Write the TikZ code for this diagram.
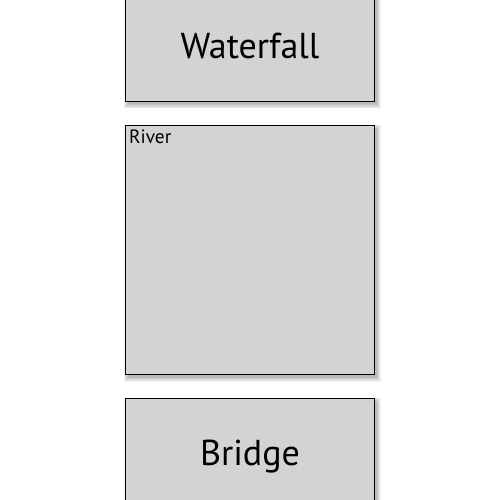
\documentclass[tikz,border=0pt]{standalone}
\usepackage{fontspec}
\setmainfont{PT Sans}
\usetikzlibrary{calc,backgrounds}
\begin{document}
\begin{tikzpicture}[x=1pt,y=-1pt,
  box/.style={draw=black, line width=1pt, outer sep=0pt, inner sep=0pt, minimum width=249pt,
    fill={rgb,255:red,211;green,211;blue,211}},
  big/.style={font=\fontsize{36}{40}\selectfont},
  small/.style={font=\fontsize{19.3}{21}\selectfont, anchor=base west, inner sep=0pt},
  shadowlayer/.style={fill=black, opacity=0.05}]
\useasboundingbox (0,0) rectangle (500,500);
\clip (0,0) rectangle (500,500);
\node[box, minimum height=160pt, anchor=south west] (waterfall) at (125.5,101.5) {};
\node[big, anchor=base] (wlabel) at (250,59) {Waterfall};
\node[box, minimum height=249pt, anchor=north west] (river) at (125.5,125.5) {};
\node[small] (rlabel) at (129,143.5) {River};
\node[box, minimum height=160pt, anchor=north west] (bridge) at (125.5,398.5) {};
\node[big, anchor=base] (blabel) at (250,465.5) {Bridge};
\begin{scope}[on background layer]
  \foreach \n in {waterfall,river,bridge}{
    \foreach \d in {0,0.8,1.6,2.4,3.2,4}{
      \fill[shadowlayer] ($(\n.north west)+(2.2-\d,3-\d)$) rectangle ($(\n.south east)+(2.2+\d,3+\d)$);
    }
  }
\end{scope}
\end{tikzpicture}
\end{document}
